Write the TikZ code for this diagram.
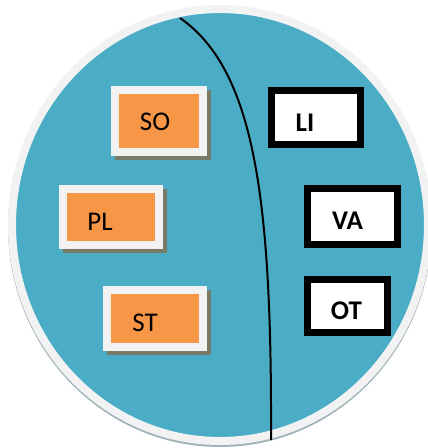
\documentclass[tikz,border=0pt]{standalone}
\usepackage{fontspec}
\setmainfont{Carlito}
\definecolor{RingTeal}{RGB}{75,172,198}
\definecolor{BoxOrange}{RGB}{247,150,70}
\definecolor{FrameGray}{RGB}{242,242,242}
\definecolor{ShadowOlive}{RGB}{122,122,104}
\definecolor{RingShadow}{RGB}{160,180,186}
\usetikzlibrary{positioning}

\begin{document}
\begin{tikzpicture}[x=1pt, y=-1pt, font=\fontsize{27}{30}\selectfont,
	obox/.style={rectangle, fill=BoxOrange, draw=FrameGray, line width=8pt,
		inner sep=0pt},
	kbox/.style={rectangle, fill=white, draw=black, line width=7pt, inner sep=0pt},
	lbl/.style={inner sep=0pt}]
	\clip (0,0) rectangle (428,448);
	\useasboundingbox (0,0) rectangle (428,448);
	% the big disc
	\draw[RingShadow, line width=8pt] (220,227) ellipse [x radius=208, y radius=216];
	\draw[fill=RingTeal, draw=FrameGray, line width=8pt] (220,225)
		ellipse [x radius=208, y radius=216];
	% dividing line
	\coordinate (ctop) at (180,18);
	\coordinate (cbot) at (271,440);
	\draw[line width=2pt] (ctop) .. controls (255,70) and (272,200) .. (cbot);
	% orange boxes, left side (shadow first)
	\foreach \n/\t/\x/\y/\w/\h/\dx/\dy in {so/SO/159/121/88/62/-4/1,
			pl/PL/111/216.5/96/56/-11/5, st/ST/155/318.5/96/57/-10/4}{
		\fill[ShadowOlive] (\x-\w/2, \y-\h/2) rectangle (\x+\w/2+8, \y+\h/2+8);
		\node[obox, minimum width=\w, minimum height=\h] (\n) at (\x,\y) {};
		\node[lbl] (\n-t) at (\x+\dx,\y+\dy) {\t};}
	% framed boxes, right side
	\foreach \n/\t/\x/\y/\w/\h/\dx/\dy in {li/LI/316/117.5/89/54/-11/5,
			va/VA/352.5/216.5/90/56/-5/4, ot/OT/347.5/306/80/53/-1/5}{
		\node[kbox, minimum width=\w, minimum height=\h] (\n) at (\x,\y) {};
		\node[lbl, font=\fontsize{27}{30}\selectfont\bfseries] (\n-t)
			at (\x+\dx,\y+\dy) {\t};}
\end{tikzpicture}
\end{document}
